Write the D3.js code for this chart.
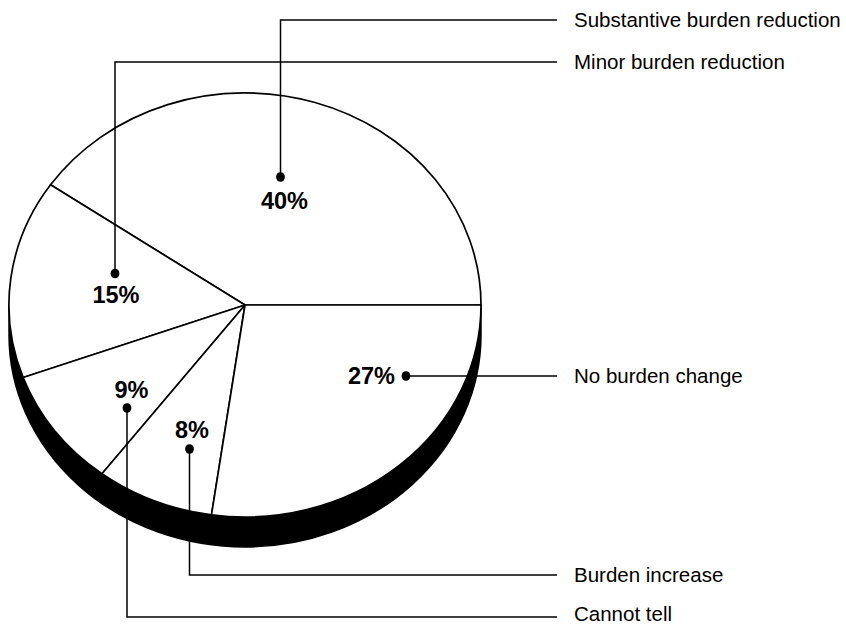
<!DOCTYPE html>
<html>
<head>
<meta charset="utf-8">
<script src="https://cdn.jsdelivr.net/npm/d3@7"></script>
<style>
  html, body { margin: 0; padding: 0; background: #fff; }
  svg { display: block; }
  text { font-family: "Liberation Sans", Arial, Helvetica, sans-serif; fill: #000; }
</style>
</head>
<body>
<svg id="chart" width="846" height="625"></svg>
<script>
// Share of responses by expected burden effect, counter-clockwise from 3 o'clock
const categories = [
  "Substantive burden reduction",
  "Minor burden reduction",
  "Cannot tell",
  "Burden increase",
  "No burden change"
];
const values = [40, 15, 9, 8, 27];
const valueLabels = ["40%", "15%", "9%", "8%", "27%"];

// Pie geometry (top face ellipse plus extruded side)
const cx = 245, cy = 305, rx = 236, ry = 212, depth = 30;

// Callout layout per slice: dot, value label, the y where the leader turns toward
// the legend text, and the baseline of that text
const callouts = [
  { dot: [280.5, 177], label: [284.5, 209], anchor: "middle", turnY: 20, textY: 26.5 },
  { dot: [115, 273.5], label: [116, 303], anchor: "middle", turnY: 62, textY: 68.5 },
  { dot: [127, 408], label: [131.5, 397.5], anchor: "middle", turnY: 617, textY: 620.5 },
  { dot: [189.5, 449], label: [192, 437.5], anchor: "middle", turnY: 575, textY: 581.5 },
  { dot: [406, 376], label: [395, 383.5], anchor: "end", turnY: 376, textY: 382.5 }
];
const leaderEndX = 557, legendTextX = 574;

const svg = d3.select("#chart");

// Slices sweep counter-clockwise starting at 3 o'clock
const pie = d3.pie().sort(null).value(d => d)
  .startAngle(Math.PI / 2)
  .endAngle(Math.PI / 2 - 2 * Math.PI);
const arcs = pie(values);

// Side of the pie: visible lower half between top and bottom ellipses
svg.append("path")
  .attr("d", `M${cx + rx},${cy} A${rx},${ry} 0 0 1 ${cx - rx},${cy}` +
             ` L${cx - rx},${cy + depth} A${rx},${ry} 0 0 0 ${cx + rx},${cy + depth} Z`)
  .attr("fill", "#000")
  .attr("stroke", "#000")
  .attr("stroke-width", 1.5);

// Top face drawn as unit-circle arcs stretched to the ellipse
const arcGen = d3.arc().innerRadius(0).outerRadius(1);
const face = svg.append("g")
  .attr("transform", `translate(${cx},${cy}) scale(${rx},${ry})`);
face.selectAll("path.slice")
  .data(arcs)
  .join("path")
  .attr("class", "slice")
  .attr("d", arcGen)
  .attr("fill", "#fff")
  .attr("stroke", "#000")
  .attr("stroke-width", 1.7)
  .attr("stroke-linejoin", "round")
  .attr("vector-effect", "non-scaling-stroke");

// Leader lines from each slice's dot to its legend text
const leaders = svg.append("g")
  .attr("fill", "none")
  .attr("stroke", "#000")
  .attr("stroke-width", 1.5);
callouts.forEach(c => {
  leaders.append("path")
    .attr("d", `M${c.dot[0]},${c.dot[1]} L${c.dot[0]},${c.turnY} L${leaderEndX},${c.turnY}`);
});

// Dots
svg.append("g").selectAll("ellipse")
  .data(callouts)
  .join("ellipse")
  .attr("cx", d => d.dot[0])
  .attr("cy", d => d.dot[1])
  .attr("rx", 4.4)
  .attr("ry", 4.8)
  .attr("fill", "#000");

// Percentage labels
svg.append("g").selectAll("text")
  .data(arcs)
  .join("text")
  .attr("x", (d, i) => callouts[i].label[0])
  .attr("y", (d, i) => callouts[i].label[1])
  .attr("text-anchor", (d, i) => callouts[i].anchor)
  .attr("font-size", 23.5)
  .attr("font-weight", "bold")
  .text((d, i) => valueLabels[i]);

// Category labels at the end of each leader
svg.append("g").selectAll("text")
  .data(categories)
  .join("text")
  .attr("x", legendTextX)
  .attr("y", (d, i) => callouts[i].textY)
  .attr("font-size", 20.5)
  .text(d => d);
</script>
</body>
</html>
